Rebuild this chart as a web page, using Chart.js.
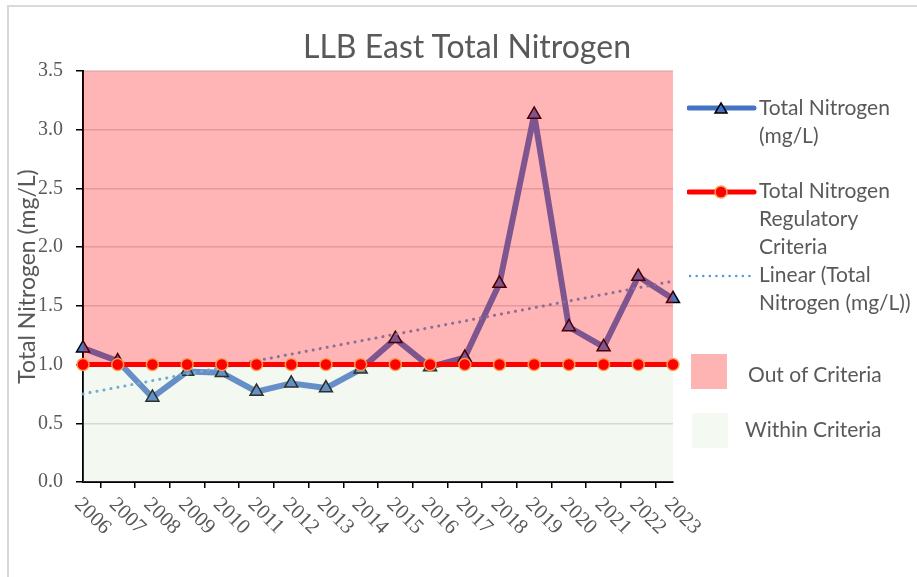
<!DOCTYPE html>
<html>
<head>
<meta charset="utf-8">
<script src="https://cdn.jsdelivr.net/npm/chart.js@4.4.1/dist/chart.umd.min.js"></script>
<style>
	html, body { margin: 0; padding: 0; background: #fff; overflow: hidden; }
	#wrap { position: relative; width: 917px; height: 577px; }
	#frame { position: absolute; left: 7px; top: 5px; right: -10px; bottom: -10px; border-top: 2px solid #d9d9d9; border-left: 2px solid #d9d9d9; }
	#title { position: absolute; left: 467px; top: 27px; transform: translateX(-50%); font: 32px Lato, sans-serif; line-height: 38px; color: #595959; white-space: nowrap; }
	.txt { position: absolute; font: 21px Lato, sans-serif; line-height: 28px; color: #595959; white-space: nowrap; }
	.sym { position: absolute; }
	.box { position: absolute; width: 36px; height: 35px; }
</style>
</head>
<body>
<div id="wrap">
	<div id="frame"></div>
	<canvas id="chart"></canvas>
	<div id="title">LLB East Total Nitrogen</div>

	<svg class="sym" style="left:687px;top:98px" width="70" height="20">
		<line x1="2" y1="10" x2="67" y2="10" stroke="#4472c4" stroke-width="5" stroke-linecap="round"/>
		<polygon points="34,5 40,15 28,15" fill="#4472c4" stroke="#000" stroke-width="1.5"/>
	</svg>
	<div class="txt" style="left:759px;top:93px">Total Nitrogen<br>(mg/L)</div>

	<svg class="sym" style="left:687px;top:182px" width="70" height="20">
		<line x1="2" y1="10" x2="67" y2="10" stroke="#ff0000" stroke-width="5" stroke-linecap="round"/>
		<circle cx="34" cy="10" r="6" fill="#ff0000" stroke="#f5a050" stroke-width="1.5"/>
	</svg>
	<div class="txt" style="left:759px;top:176px">Total Nitrogen<br>Regulatory<br>Criteria</div>

	<svg class="sym" style="left:687px;top:266px" width="70" height="20">
		<line x1="3" y1="10" x2="63" y2="10" stroke="#5b9bd5" stroke-width="2.5" stroke-dasharray="0.1 6.5" stroke-linecap="round"/>
	</svg>
	<div class="txt" style="left:759px;top:260px">Linear (Total<br>Nitrogen (mg/L))</div>

	<div class="box" style="left:691px;top:354px;background:#ffb4b4"></div>
	<div class="txt" style="left:748px;top:360px">Out of Criteria</div>
	<div class="box" style="left:692px;top:413px;background:#f4f9f2"></div>
	<div class="txt" style="left:745px;top:415px">Within Criteria</div>
</div>
<script>
const years = ['2006', '2007', '2008', '2009', '2010', '2011', '2012', '2013', '2014',
	'2015', '2016', '2017', '2018', '2019', '2020', '2021', '2022', '2023'];
const totalNitrogen = [1.14, 1.03, 0.72, 0.94, 0.93, 0.77, 0.84, 0.80, 0.96,
	1.22, 0.98, 1.06, 1.69, 3.13, 1.32, 1.15, 1.75, 1.56];
const criteria = [1.0, 1.0, 1.0, 1.0, 1.0, 1.0, 1.0, 1.0, 1.0,
	1.0, 1.0, 1.0, 1.0, 1.0, 1.0, 1.0, 1.0, 1.0];
// linear trend, read at the first and last year
const trendEnds = [0.75, 1.71];
const yTicks = ['0.0', '0.5', '1.0', '1.5', '2.0', '2.5', '3.0', '3.5'];

const yMax = parseFloat(yTicks[yTicks.length - 1]);
const last = years.length - 1;
const trend = years.map((_, i) => (i === 0 ? trendEnds[0] : i === last ? trendEnds[1] : null));
const outTop = years.map(() => yMax);

// year labels run down to the right, so draw them here
const yearLabels = {
	id: "yearLabels",
	afterDraw(chart) {
		const { ctx } = chart;
		const x = chart.scales.x;
		ctx.save();
		ctx.font = '21px "Liberation Serif"';
		ctx.fillStyle = "#595959";
		ctx.textAlign = "left";
		ctx.textBaseline = "top";
		years.forEach((yr, i) => {
			ctx.save();
			ctx.translate(x.getPixelForValue(i) + 2, x.top + 12);
			ctx.rotate(Math.PI / 4);
			ctx.fillText(yr, 0, 0);
			ctx.restore();
		});
		ctx.restore();
	},
};

new Chart(document.getElementById("chart"), {
	type: "line",
	data: {
		labels: years,
		datasets: [
			{
				label: "Total Nitrogen Regulatory Criteria",
				data: criteria,
				order: 0,
				borderColor: "#ff0000",
				borderWidth: 5,
				pointRadius: 6,
				pointBackgroundColor: "#ff0000",
				pointBorderColor: "rgba(245,160,80,0.95)",
				pointBorderWidth: 1.5,
				fill: false,
			},
			{
				label: "Out of Criteria",
				data: outTop,
				order: 1,
				borderColor: "transparent",
				borderWidth: 0,
				pointRadius: 0,
				backgroundColor: "rgba(255,0,0,0.29)",
				fill: { value: criteria[0] },
			},
			{
				label: "Within Criteria",
				data: criteria,
				order: 2,
				borderColor: "transparent",
				borderWidth: 0,
				pointRadius: 0,
				backgroundColor: "rgba(200,228,190,0.22)",
				fill: "origin",
			},
			{
				label: "Linear (Total Nitrogen (mg/L))",
				data: trend,
				order: 3,
				spanGaps: true,
				borderColor: "#5b9bd5",
				borderWidth: 3,
				borderDash: [0.1, 7],
				borderCapStyle: "round",
				pointRadius: 0,
				fill: false,
			},
			{
				label: "Total Nitrogen (mg/L)",
				data: totalNitrogen,
				order: 4,
				borderColor: "#4a78c8",
				borderWidth: 6,
				borderJoinStyle: "round",
				pointStyle: "triangle",
				pointRadius: 7.5,
				pointBackgroundColor: "#4a78c8",
				pointBorderColor: "#000",
				pointBorderWidth: 1.5,
				fill: false,
			},
		],
	},
	options: {
		responsive: true,
		maintainAspectRatio: false,
		animation: false,
		events: [],
		layout: { padding: { top: 71, right: 244, bottom: 0, left: 0 } },
		plugins: {
			legend: { display: false },
			tooltip: { enabled: false },
		},
		scales: {
			x: {
				offset: false,
				grid: {
					offset: true,
					drawOnChartArea: false,
					color: "#000",
					lineWidth: 1.5,
					tickLength: 6,
				},
				border: { color: "#000", width: 2 },
				ticks: { display: false },
				afterFit(scale) {
					scale.height = 95;
				},
			},
			y: {
				min: 0,
				max: yMax,
				grid: { color: "#d9d9d9", lineWidth: 1.5, tickColor: "#000", tickLength: 7 },
				border: { color: "#000", width: 2 },
				ticks: {
					stepSize: 0.5,
					padding: 13,
					color: "#595959",
					font: { family: "Liberation Serif", size: 20 },
					callback: (v, i) => yTicks[i],
				},
				title: {
					display: true,
					text: "Total Nitrogen (mg/L)",
					color: "#595959",
					font: { family: "Lato", size: 23 },
					padding: { top: 14, bottom: 0 },
				},
				afterFit(scale) {
					scale.width = 83;
				},
			},
		},
	},
	plugins: [yearLabels],
});
</script>
</body>
</html>
